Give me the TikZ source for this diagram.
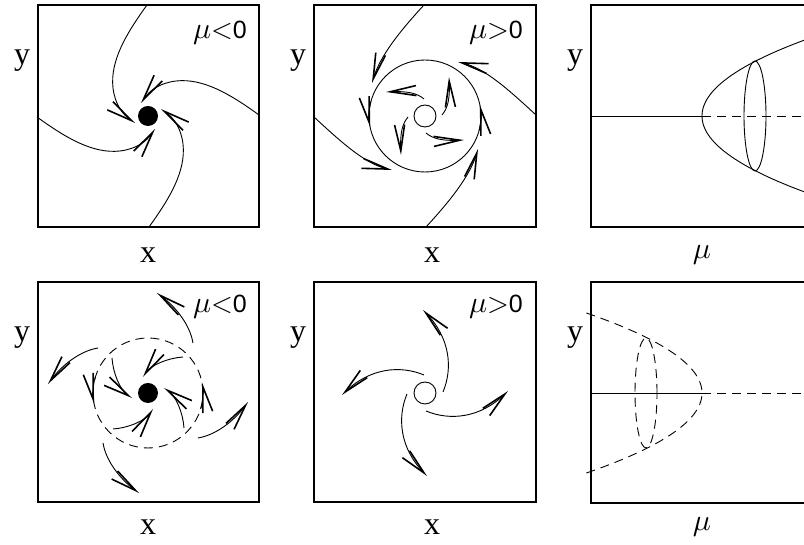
\documentclass[tikz,border=0pt]{standalone}
\usepackage{graphicx}
\usepackage{fontspec}
\setmainfont{Liberation Serif}
\newfontfamily\sansf{Liberation Sans}
\usetikzlibrary{arrows.meta}
\newcommand{\bigmu}{\scalebox{3}{$\mu$}}
\newcommand{\mulabel}[1]{\bigmu\scalebox{2.8}{$#1$}{\sansf\fontsize{25}{28}\selectfont 0}}
\begin{document}
\begin{tikzpicture}[x=1pt,y=1pt,
  frame/.style={line width=1.6pt},
  curve/.style={line width=0.9pt},
  flow/.style={line width=0.9pt, -{Straight Barb[length=26pt,width=10pt,line width=1.6pt]}},
  dsh/.style={line width=0.9pt, dash pattern=on 9pt off 6pt},
  lab/.style={font=\fontsize{32}{34}\selectfont, inner sep=0pt},
  mulab/.style={inner sep=0pt},
  fixdot/.style={circle, fill, inner sep=0pt, minimum size=20pt},
  opendot/.style={circle, draw, line width=0.9pt, inner sep=0pt, minimum size=22pt}]
\useasboundingbox (0,0) rectangle (804,545);
\clip (0,0) rectangle (804,545);

% ---------- Panel 1 ----------
\draw[frame] (38,318) rectangle (259,540);
\node[lab] (y1) at (22,484) {y};
\node[lab] (x1) at (148,290) {x};
\node[mulab] (m1) at (220,512) {\mulabel{<}};
\node[fixdot] (dot1) at (148,429) {};
\begin{scope}[shift={(148,429)}]
  \foreach \a in {0,90,180,270}
    \draw[flow, rotate=\a] (-1,111) .. controls (-22,82) and (-38,55) .. (-35,28) .. controls (-33,12) and (-26,2) .. (-13,-7);
\end{scope}

% ---------- Panel 2 ----------
\draw[frame] (314,318) rectangle (536,540);
\node[lab] (y2) at (298,484) {y};
\node[lab] (x2) at (432,290) {x};
\node[mulab] (m2) at (496,512) {\mulabel{>}};
\node[opendot] (o2) at (425,429) {};
\draw[curve] (o2.center) circle (56);
\begin{scope}[shift={(425,429)}]
  \foreach \a in {0,180} {
    \draw[flow, rotate=\a] (-1,111) .. controls (-25,85) and (-45,60) .. (-53,33);
    \draw[flow, rotate=\a] (111,1) .. controls (85,25) and (60,48) .. (33,54);
    \draw[flow, rotate=\a] (165:56) arc (165:191:56);
  }
  \foreach \a in {0,90,180,270}
    \draw[flow, rotate=\a] (17,1) .. controls (23,8) and (25,18) .. (24,39);
\end{scope}

% ---------- Panel 3 ----------
\draw[frame] (810,540) -- (591,540) -- (591,318) -- (810,318);
\node[lab] (y3) at (575,484) {y};
\node[mulab] (m3) at (702,290) {\bigmu};
\coordinate (v3) at (702,429);
\draw[curve] (591,429) -- (v3);
\draw[dsh] (v3) -- (804,429);
\draw[curve] plot[domain=-85:85, samples=81, smooth] ({702+(\x/7.5)^2}, {429+\x});
\draw[curve] (755,429) ellipse [x radius=11, y radius=55];

% ---------- Panel 4 ----------
\draw[frame] (38,43) rectangle (259,263);
\node[lab] (y4) at (22,207) {y};
\node[lab] (x4) at (148,18) {x};
\node[mulab] (m4) at (220,238) {\mulabel{<}};
\node[fixdot] (dot4) at (148,152) {};
\draw[dsh] (dot4.center) circle (55);
\begin{scope}[shift={(148,152)}]
  \foreach \a in {0,90,180,270} {
    \draw[flow, rotate=\a] (35,36) .. controls (20,35) and (3,28) .. (-5,16);
    \draw[flow, rotate=\a] (45,50) .. controls (42,68) and (28,86) .. (9,100);
  }
  \foreach \a in {0,180}
    \draw[flow, dsh, rotate=\a] (163:55) arc (163:191:55);
\end{scope}

% ---------- Panel 5 ----------
\draw[frame] (314,43) rectangle (536,263);
\node[lab] (y5) at (298,207) {y};
\node[lab] (x5) at (432,18) {x};
\node[mulab] (m5) at (496,238) {\mulabel{>}};
\node[opendot] (o5) at (425,152) {};
\begin{scope}[shift={(425,152)}]
  \foreach \a in {0,90,180,270}
    \draw[flow, rotate=\a] (18,1) .. controls (28,25) and (25,55) .. (-2,83);
\end{scope}

% ---------- Panel 6 ----------
\draw[frame] (810,263) -- (591,263) -- (591,42) -- (810,42);
\node[lab] (y6) at (575,207) {y};
\node[mulab] (m6) at (702,18) {\bigmu};
\coordinate (v6) at (702,152);
\draw[curve] (591,152) -- (v6);
\draw[dsh] (v6) -- (804,152);
\draw[dsh] plot[domain=-80:80, samples=81, smooth] ({702-(\x/7.44)^2}, {152+\x});
\draw[dsh] (646,152) ellipse [x radius=11, y radius=55];
\end{tikzpicture}
\end{document}
